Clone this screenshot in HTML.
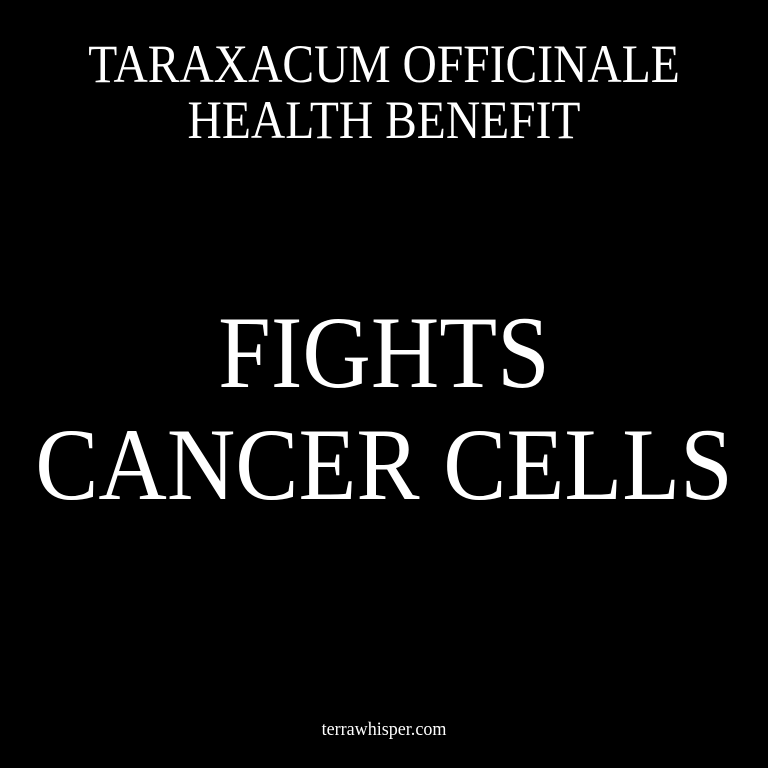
<!DOCTYPE html>
<html><head><meta charset="utf-8"><style>
html,body{margin:0;padding:0;background:#000;}
body{width:768px;height:768px;position:relative;overflow:hidden;font-family:"Liberation Serif",serif;color:#fff;}
div{position:absolute;left:0;width:768px;text-align:center;white-space:nowrap;transform-origin:384px 0;}
#t1{top:36px;font-size:54px;line-height:56px;transform:scaleX(0.88);}
#t2{top:297px;font-size:103px;line-height:112px;transform:scaleX(0.92);}
#t3{top:719px;font-size:19px;line-height:22px;transform:scaleX(0.95);}
</style></head><body>
<div id="t1">TARAXACUM OFFICINALE<br>HEALTH BENEFIT</div>
<div id="t2">FIGHTS<br>CANCER CELLS</div>
<div id="t3">terrawhisper.com</div>
</body></html>
